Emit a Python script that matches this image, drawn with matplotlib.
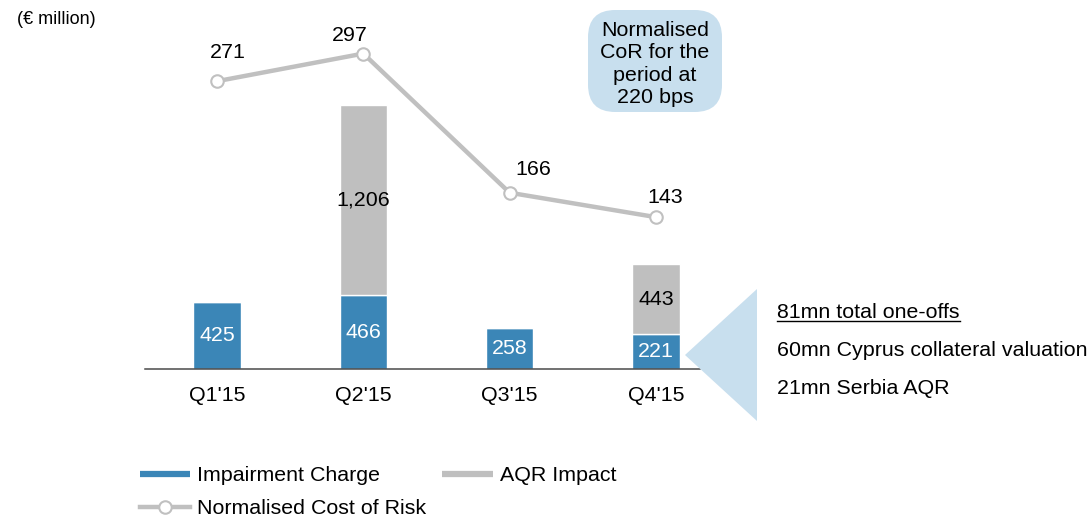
import matplotlib
matplotlib.use("Agg")
import matplotlib.pyplot as plt
from matplotlib.patches import FancyBboxPatch, Polygon
from matplotlib.lines import Line2D
import numpy as np

plt.rcParams['font.family'] = ['Liberation Sans', 'DejaVu Sans']

quarters = ["Q1'15", "Q2'15", "Q3'15", "Q4'15"]
impairment = [425, 466, 258, 221]
aqr = [0, 1206, 0, 443]
cost_of_risk = [271, 297, 166, 143]
cor_label_offsets = [(8, 21), (-10, 13), (17, 17), (6.5, 14)]
notes = ["81mn total one-offs", "60mn Cyprus collateral valuation", "21mn Serbia AQR"]
callout_text = "Normalised\nCoR for the\nperiod at\n220 bps"

BLUE = '#3b86b7'
GREY = '#bfbfbf'
LINE = '#c0c0c0'
LIGHT = '#c8dfee'
FS = 15.4

W, H = 1092, 527
fig = plt.figure(figsize=(W / 100, H / 100), dpi=100)

def fx(x):
    return x / W

def fy(y):
    return 1 - y / H

ax_left, ax_right, ax_bottom, ax_top = 145, 700, 369, 20
ax = fig.add_axes([fx(ax_left), fy(ax_bottom), fx(ax_right) - fx(ax_left), fy(ax_top) - fy(ax_bottom)])
x = np.arange(len(quarters))
unit = 146.3
ax.set_xlim(-72 / unit, -72 / unit + (ax_right - ax_left) / unit)
ax.set_ylim(0, (ax_bottom - ax_top) / 0.158)

bw = 0.325
ax.bar(x, impairment, bw, color=BLUE, edgecolor='white', linewidth=1)
ax.bar(x, aqr, bw, bottom=impairment, color=GREY, edgecolor='white', linewidth=1)
for i in range(len(x)):
    ax.text(x[i], impairment[i] / 2, f"{impairment[i]:,}", ha='center', va='center',
            color='white', fontsize=FS)
    if aqr[i] > 0:
        ax.text(x[i], impairment[i] + aqr[i] / 2, f"{aqr[i]:,}", ha='center', va='center',
                color='black', fontsize=FS)

for s in ['top', 'right', 'left']:
    ax.spines[s].set_visible(False)
ax.spines['bottom'].set_color('#4a4a4a')
ax.spines['bottom'].set_linewidth(1.1)
ax.set_yticks([])
ax.set_xticks(x)
ax.set_xticklabels(quarters, fontsize=FS)
ax.tick_params(axis='x', length=0, pad=12.5)

ax2 = ax.twinx()
ax2.set_ylim(0, (ax_bottom - ax_top) / 1.062)
ax2.set_axis_off()
ax2.plot(x, cost_of_risk, color=LINE, lw=3.2, marker='o', markersize=9,
         markerfacecolor='white', markeredgecolor=LINE, markeredgewidth=1.5, zorder=5)
for i, v in enumerate(cost_of_risk):
    ax2.annotate(str(v), (x[i], v), xytext=cor_label_offsets[i], textcoords='offset points',
                 ha='center', va='center', fontsize=FS)

# Callout box
box = FancyBboxPatch((fx(588), fy(112)), fx(722) - fx(588), fy(10) - fy(112),
                     boxstyle="round,pad=0,rounding_size=0.025", transform=fig.transFigure,
                     facecolor=LIGHT, edgecolor='none', mutation_aspect=W / H)
fig.add_artist(box)
fig.text(fx(655), fy(64), callout_text, ha='center', va='center', fontsize=FS,
         linespacing=1.24)

# Triangle
tri = Polygon([(fx(685), fy(355)), (fx(757), fy(289)), (fx(757), fy(421))],
              closed=True, transform=fig.transFigure, facecolor=LIGHT, edgecolor='none')
fig.add_artist(tri)

note_y = [313, 351, 389]
texts = []
for t, yy in zip(notes, note_y):
    texts.append(fig.text(fx(777), fy(yy), t, ha='left', va='center', fontsize=FS))

fig.text(fx(17), fy(20), "(€ million)", ha='left', va='center', fontsize=13)

# Legend
handles = [
    Line2D([], [], color=BLUE, lw=4.5, solid_capstyle='butt'),
    Line2D([], [], color=LINE, lw=3.2, marker='o', markersize=9, markerfacecolor='white',
           markeredgecolor=LINE, markeredgewidth=1.5),
    Line2D([], [], color=GREY, lw=4.5, solid_capstyle='butt'),
]
labels = ["Impairment Charge", "Normalised Cost of Risk", "AQR Impact"]
fig.legend(handles, labels, ncol=2, loc='upper left', bbox_to_anchor=(fx(140), fy(466)),
           frameon=False, fontsize=FS, handlelength=2.35, handletextpad=0.33,
           columnspacing=0.75, labelspacing=0.66, borderpad=0, borderaxespad=0)

# underline first note
fig.canvas.draw()
r = fig.canvas.get_renderer()
bb = texts[0].get_window_extent(r)
uy = bb.y0 + 2
fig.add_artist(Line2D([bb.x0 / W, bb.x1 / W], [uy / H, uy / H], color='black', lw=1,
                      transform=fig.transFigure))

fig.savefig("out.png", dpi=100)
